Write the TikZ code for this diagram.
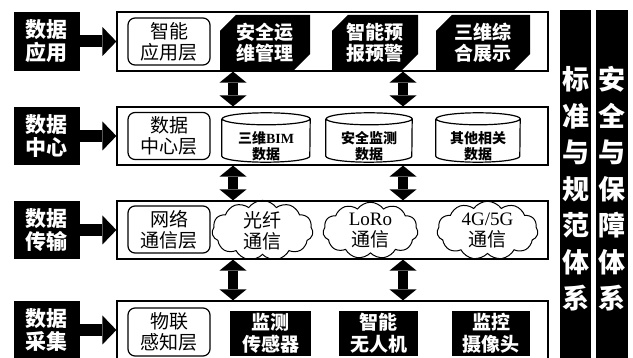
\documentclass[tikz,border=0pt]{standalone}
\usepackage{fontspec}
\setmainfont{Noto Sans CJK SC}
\newfontfamily\latin{Liberation Serif}
\usetikzlibrary{shapes.geometric,shapes.symbols,shapes.misc,arrows.meta}
\newcommand\drawcyl[2]{%
  \draw[cylline] ([yshift=-6pt]#1.north west) -- ([yshift=6pt]#1.south west)
    arc[start angle=180,end angle=360,x radius=#2,y radius=6pt]
    -- ([yshift=-6pt]#1.north east)
    arc[start angle=0,end angle=180,x radius=#2,y radius=6pt]
    arc[start angle=180,end angle=360,x radius=#2,y radius=6pt];}
\begin{document}
\begin{tikzpicture}[x=1pt,y=-1pt,
  frame/.style={draw, line width=1.2pt, minimum width=431pt, minimum height=58pt, inner sep=0pt},
  leftbox/.style={fill=black, text=white, minimum width=66pt, minimum height=58pt, inner sep=0pt, align=center, font=\bfseries\fontsize{21}{23}\selectfont},
  roundbox/.style={draw, rounded corners=7pt, line width=1.2pt, minimum width=82pt, minimum height=47pt, inner sep=0pt, align=center, font=\fontsize{19}{21}\selectfont},
  snipbox/.style={chamfered rectangle, chamfered rectangle corners={north west,south east}, chamfered rectangle xsep=8pt, chamfered rectangle ysep=8pt, fill=black, text=white, inner sep=0pt, minimum height=49pt, align=center, font=\bfseries\fontsize{19}{21}\selectfont},
  cylbox/.style={minimum height=49pt, inner sep=0pt},
  cyltext/.style={align=center, inner sep=0pt, font=\bfseries\fontsize{14}{16.5}\selectfont},
  cylline/.style={line width=1.2pt},
  cloudbox/.style={cloud, cloud puffs=11, cloud puff arc=110, cloud ignores aspect, draw, line width=1pt, minimum height=48pt, inner sep=0pt, align=center, font=\fontsize{19}{21}\selectfont},
  blackbox/.style={fill=black, text=white, minimum height=45pt, inner sep=0pt, align=center, font=\bfseries\fontsize{19}{22}\selectfont},
  sidebar/.style={fill=black, text=white, minimum width=31pt, minimum height=358pt, inner sep=0pt, align=center, font=\bfseries\fontsize{27}{36.5}\selectfont},
  harrow/.style={line width=12pt, -{Triangle[length=14pt,width=29pt,line width=0pt]}},
  varrow/.style={line width=10pt, {Triangle[length=11pt,width=27pt,line width=0pt]}-{Triangle[length=11pt,width=27pt,line width=0pt]}}
]
\useasboundingbox (0,0) rectangle (633,358);
\coordinate (xa) at (233,0);
\coordinate (xb) at (403,0);

% row 1
\node[frame, minimum height=59pt] (f1) at (332.5,41.5) {};
\node[leftbox, minimum height=59pt] (l1) at (47,41.5) {数据\\应用};
\node[roundbox] (a1) at (169,41.5) {智能\\应用层};
\node[snipbox, minimum width=90pt] (a2) at (265,42.5) {安全运\\维管理};
\node[snipbox, minimum width=86pt] (a3) at (375,42.5) {智能预\\报预警};
\node[snipbox, minimum width=94pt] (a4) at (483,42.5) {三维综\\合展示};

% row 2
\node[frame] (f2) at (332.5,136) {};
\node[leftbox] (l2) at (47,136) {数据\\中心};
\node[roundbox] (b1) at (169,136) {数据\\中心层};
\node[cylbox, minimum width=88pt] (b2) at (266,137.5) {};
\node[cylbox, minimum width=86pt] (b3) at (369,137.5) {};
\node[cylbox, minimum width=84pt] (b4) at (478,137.5) {};
\drawcyl{b2}{44pt}
\drawcyl{b3}{43pt}
\drawcyl{b4}{42pt}
\node[cyltext] (t2) at (266,146) {三维{\latin BIM}\\数据};
\node[cyltext] (t3) at (369,146) {安全监测\\数据};
\node[cyltext] (t4) at (478,146) {其他相关\\数据};

% row 3
\node[frame] (f3) at (332.5,230) {};
\node[leftbox] (l3) at (47,230) {数据\\传输};
\node[roundbox] (c1) at (169,229.5) {网络\\通信层};
\node[cloudbox, minimum width=101pt] (c2) at (262.5,230.5) {光纤\\通信};
\node[cloudbox, minimum width=95pt] (c3) at (370.5,230.5) {{\latin LoRo}\\通信};
\node[cloudbox, minimum width=101pt] (c4) at (487.5,230.5) {{\latin 4G/5G}\\通信};

% row 4
\node[frame] (f4) at (332.5,330) {};
\node[leftbox] (l4) at (47,330) {数据\\采集};
\node[roundbox, minimum height=48pt] (d1) at (169,332) {物联\\感知层};
\node[blackbox, minimum width=81pt] (d2) at (270.5,333.5) {监测\\传感器};
\node[blackbox, minimum width=79pt] (d3) at (378.5,333.5) {智能\\无人机};
\node[blackbox, minimum width=78pt] (d4) at (491,333.5) {监控\\摄像头};

% side bars
\node[sidebar] (s1) at (575.5,189) {标\\准\\与\\规\\范\\体\\系};
\node[sidebar, minimum width=32pt] (s2) at (612,189) {安\\全\\与\\保\\障\\体\\系};

% horizontal arrows
\draw[harrow] (l1.east) -- (f1.west);
\draw[harrow] (l2.east) -- (f2.west);
\draw[harrow] (l3.east) -- (f3.west);
\draw[harrow] (l4.east) -- (f4.west);

% vertical arrows
\draw[varrow] (f1.south -| xa) -- (f2.north -| xa);
\draw[varrow] (f1.south -| xb) -- (f2.north -| xb);
\draw[varrow] (f2.south -| xa) -- (f3.north -| xa);
\draw[varrow] (f2.south -| xb) -- (f3.north -| xb);
\draw[varrow] (f3.south -| xa) -- (f4.north -| xa);
\draw[varrow] (f3.south -| xb) -- (f4.north -| xb);
\end{tikzpicture}
\end{document}
